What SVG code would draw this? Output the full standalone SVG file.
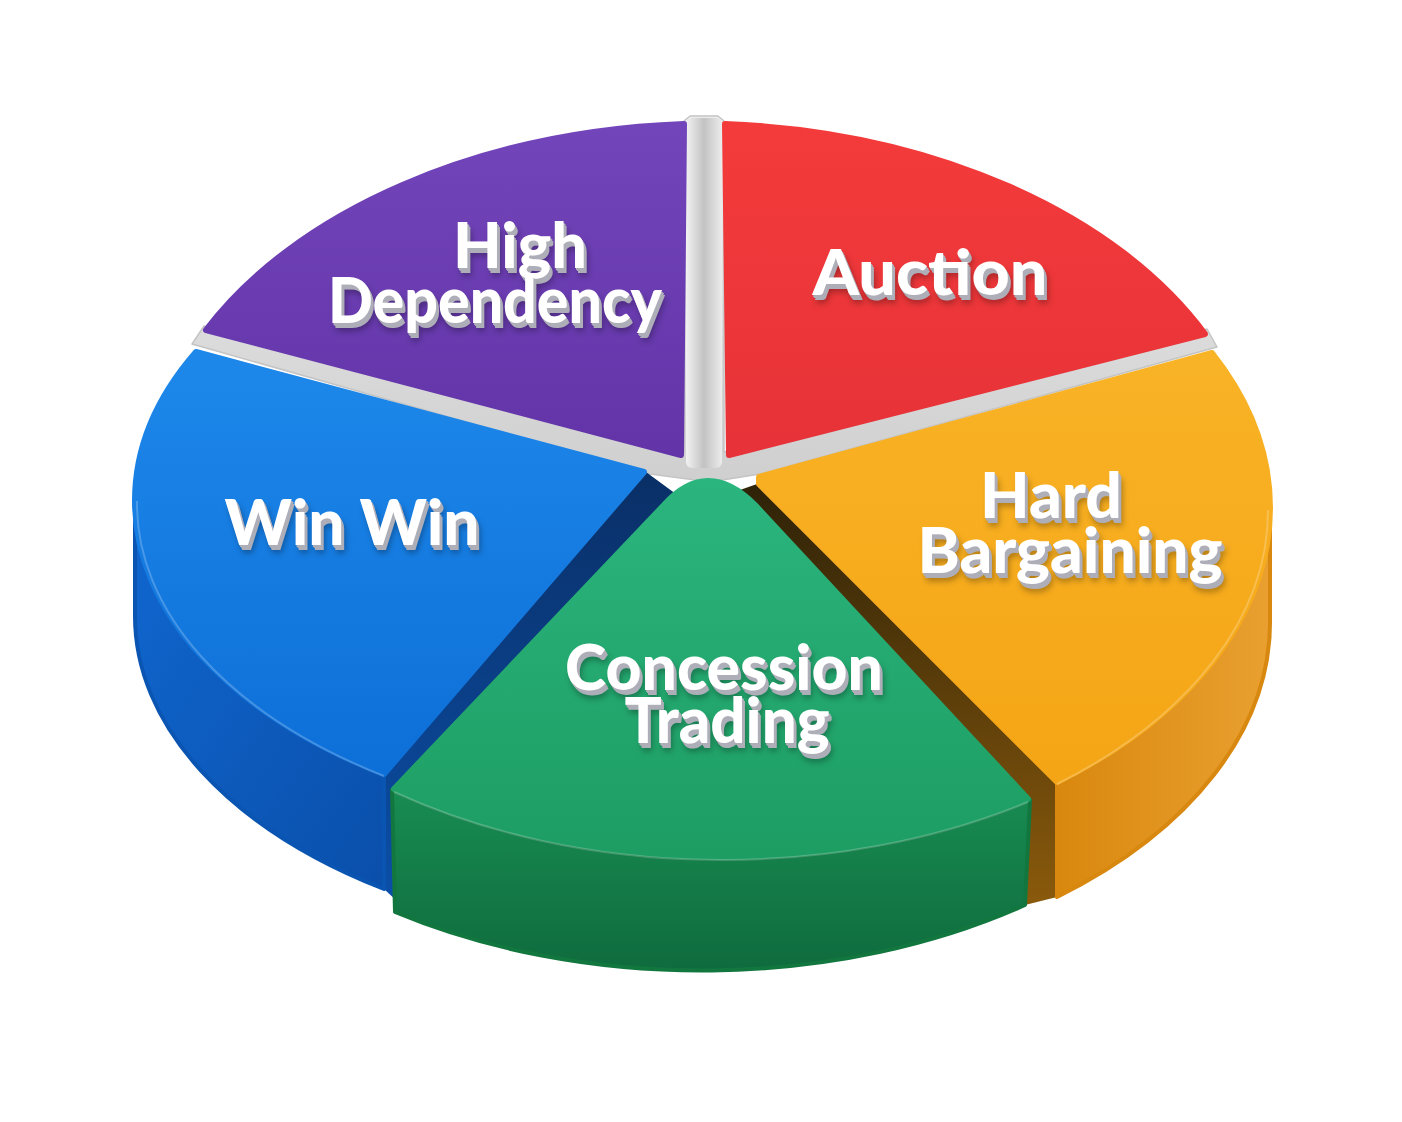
<svg xmlns="http://www.w3.org/2000/svg" width="1402" height="1122" viewBox="0 0 1402 1122">
<defs>
<linearGradient id="gPurple" x1="0" y1="0" x2="0" y2="1"><stop offset="0" stop-color="#7345BA"/><stop offset="1" stop-color="#6234A8"/></linearGradient>
<linearGradient id="gRed" x1="0" y1="0" x2="0" y2="1"><stop offset="0" stop-color="#F43B3B"/><stop offset="1" stop-color="#E63238"/></linearGradient>
<linearGradient id="gBlue" x1="0" y1="0" x2="0" y2="1"><stop offset="0" stop-color="#1E88EA"/><stop offset="1" stop-color="#0D6FD8"/></linearGradient>
<linearGradient id="gBlueSide" x1="0" y1="0" x2="1" y2="1"><stop offset="0" stop-color="#1067D0"/><stop offset="1" stop-color="#0A4FAA"/></linearGradient>
<linearGradient id="gGreen" x1="0" y1="0" x2="0" y2="1"><stop offset="0" stop-color="#2BB57E"/><stop offset="1" stop-color="#1D9D62"/></linearGradient>
<linearGradient id="gGreenSide" x1="0" y1="0" x2="0" y2="1"><stop offset="0" stop-color="#188C52"/><stop offset="1" stop-color="#0F6B3D"/></linearGradient>
<linearGradient id="gYellow" x1="0" y1="0" x2="0" y2="1"><stop offset="0" stop-color="#F9B326"/><stop offset="1" stop-color="#F4A515"/></linearGradient>
<linearGradient id="gYellowSide" x1="0" y1="0" x2="1" y2="0"><stop offset="0" stop-color="#D9880E"/><stop offset="1" stop-color="#E9A030"/></linearGradient>
<linearGradient id="gGray" x1="0" y1="0" x2="0" y2="1"><stop offset="0" stop-color="#EDEDED"/><stop offset="1" stop-color="#CFCFCF"/></linearGradient>
<linearGradient id="gGrayV" x1="0" y1="0" x2="1" y2="0"><stop offset="0" stop-color="#F2F2F2"/><stop offset="0.5" stop-color="#C2C2C2"/><stop offset="1" stop-color="#ECECEC"/></linearGradient>
<linearGradient id="gGapY" x1="0" y1="0" x2="0" y2="1"><stop offset="0" stop-color="#2E2208"/><stop offset="1" stop-color="#8A5A0C"/></linearGradient>
<linearGradient id="gGapB" x1="0" y1="0" x2="0" y2="1"><stop offset="0" stop-color="#0A2F66"/><stop offset="1" stop-color="#0B4FA8"/></linearGradient>
<filter id="t3d" x="-10%" y="-30%" width="125%" height="170%" color-interpolation-filters="sRGB">
<feGaussianBlur in="SourceAlpha" stdDeviation="3"/>
<feOffset dx="4" dy="8" result="blur"/>
<feFlood flood-color="#000" flood-opacity="0.32"/>
<feComposite in2="blur" operator="in" result="shadow"/>
<feOffset in="SourceAlpha" dx="1" dy="1.5" result="a1"/>
<feOffset in="SourceAlpha" dx="2" dy="3" result="a2"/>
<feOffset in="SourceAlpha" dx="2.5" dy="4.5" result="a3"/>
<feMerge result="ext"><feMergeNode in="a1"/><feMergeNode in="a2"/><feMergeNode in="a3"/></feMerge>
<feFlood flood-color="#AEAEB8"/>
<feComposite in2="ext" operator="in" result="extc"/>
<feMerge><feMergeNode in="shadow"/><feMergeNode in="extc"/><feMergeNode in="SourceGraphic"/></feMerge>
</filter>
</defs>
<style>
.lbl{font-family:Lato,"Open Sans","Liberation Sans",sans-serif;font-weight:900;font-size:62px;fill:#FFFFFF;text-anchor:middle;filter:url(#t3d)}
.face{stroke-width:6;stroke-linejoin:round}
.rim{fill:none;stroke:#FFFFFF;stroke-opacity:0.22;stroke-width:2}
</style>
<rect x="0" y="0" width="1402" height="1122" fill="#FFFFFF"/>

<g id="base">
<path d="M192,344 L204,326 L684,452 L684,121 L690,116 L718,116 L724,121 L724,452 L1207,329 L1217,347 L760,474 L710,482 L650,474 Z" fill="url(#gGray)" stroke="#C4C4C4" stroke-width="1.5" stroke-linejoin="round"/>
<rect x="686" y="118" width="36" height="350" rx="6" fill="url(#gGrayV)"/>
<path d="M740,490 L757,484 L1057,782 L1057,897 L1025,905 L1030,800 Z" fill="url(#gGapY)"/>
<path d="M646,472 L384,774 L384,889 L398,902 L392,790 L680,497 Z" fill="url(#gGapB)"/>
</g>

<g id="high-dependency">
<path class="face" d="M684,124 A570 372 0 0 0 206,330 L681,455 Z" fill="url(#gPurple)" stroke="url(#gPurple)"/>
<text class="lbl" x="520" y="268" textLength="134" lengthAdjust="spacingAndGlyphs">High</text>
<text class="lbl" x="495" y="323" textLength="334" lengthAdjust="spacingAndGlyphs">Dependency</text>
</g>

<g id="auction">
<path class="face" d="M725,124 L729,455 L1205,334 A570 372 0 0 0 725,124 Z" fill="url(#gRed)" stroke="url(#gRed)"/>
<text class="lbl" x="930" y="295" textLength="235" lengthAdjust="spacingAndGlyphs">Auction</text>
</g>

<g id="win-win">
<path d="M135,501 L135,616 A565 329 0 0 0 384,889 L384,774 A565 329 0 0 1 135,501 Z" fill="url(#gBlueSide)" stroke="#0B55B2" stroke-width="4" stroke-linejoin="round"/>
<path class="face" d="M196,352 L644,472 L384,774 A565 329 0 0 1 135,501 A565 329 0 0 1 196,352 Z" fill="url(#gBlue)" stroke="url(#gBlue)"/>
<path class="rim" d="M384,776 A565 329 0 0 1 137,501"/>
<text class="lbl" x="352" y="545" textLength="255" lengthAdjust="spacingAndGlyphs">Win Win</text>
</g>

<g id="hard-bargaining">
<path d="M1270,508 L1270,623 A565 351 0 0 1 1057,897 L1057,782 A565 351 0 0 0 1270,508 Z" fill="url(#gYellowSide)" stroke="#D8880F" stroke-width="4" stroke-linejoin="round"/>
<path class="face" d="M759,477 L1212,353 A565 351 0 0 1 1270,508 A565 351 0 0 1 1057,782 L759,484 Z" fill="url(#gYellow)" stroke="url(#gYellow)"/>
<path class="rim" d="M1268,510 A565 351 0 0 1 1057,784"/>
<text class="lbl" x="1051" y="518" textLength="142" lengthAdjust="spacingAndGlyphs">Hard</text>
<text class="lbl" x="1070" y="573" textLength="305" lengthAdjust="spacingAndGlyphs">Bargaining</text>
</g>

<g id="concession-trading">
<path d="M392,790 L395,912 A570 372 0 0 0 1025,905 L1030,800 A570 372 0 0 1 392,790 Z" fill="url(#gGreenSide)" stroke="#12773F" stroke-width="4" stroke-linejoin="round"/>
<path class="face" d="M394,789 L664,505 Q707,457 755,505 L1028,799 A570 372 0 0 1 394,789 Z" fill="url(#gGreen)" stroke="url(#gGreen)"/>
<path class="rim" d="M1028,802 A570 372 0 0 1 394,792"/>
<text class="lbl" x="724" y="690" textLength="318" lengthAdjust="spacingAndGlyphs">Concession</text>
<text class="lbl" x="727" y="743" textLength="205" lengthAdjust="spacingAndGlyphs">Trading</text>
</g>
</svg>
